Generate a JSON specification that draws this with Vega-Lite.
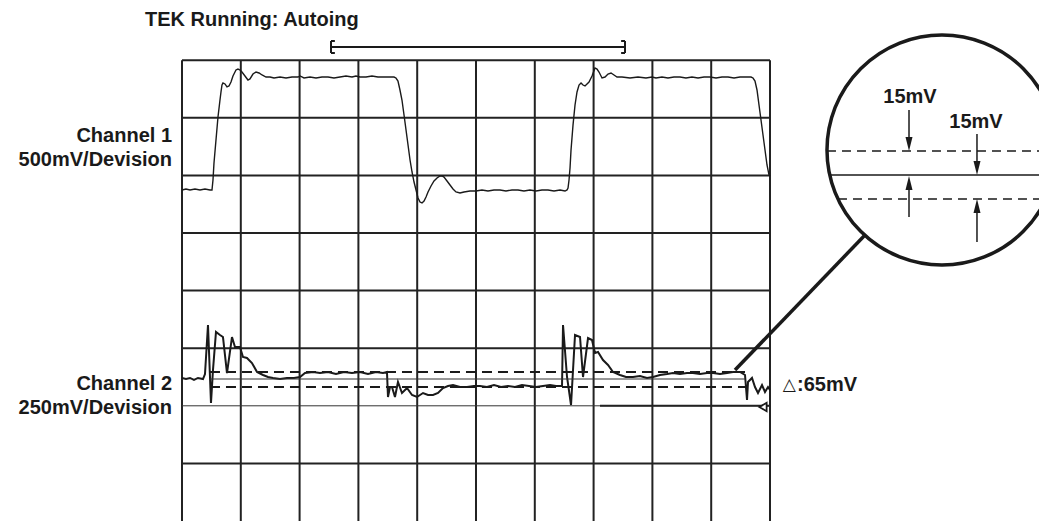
{
  "$schema": "https://vega.github.io/schema/vega-lite/v6.json",
  "width": 1039,
  "height": 521,
  "autosize": {"type": "none"},
  "padding": 0,
  "background": "white",
  "config": {"view": {"stroke": null}, "axis": {"disable": true}},
  "layer": [
    {
      "data": {"values": [{"t":0},{"t":1},{"t":2},{"t":3},{"t":4},{"t":5},{"t":6},{"t":7},{"t":8},{"t":9},{"t":10}]},
      "mark": {"type": "rule", "color": "#222", "strokeWidth": 2},
      "encoding": {
        "x": {"field": "t", "type": "quantitative", "scale": {"domain": [-3.0952, 14.5748], "nice": false, "zero": false}},
        "y": {"datum": 0, "type": "quantitative", "scale": {"domain": [0, 9.045], "nice": false, "zero": false}},
        "y2": {"datum": 8}
      }
    },
    {
      "data": {"values": [{"v":1},{"v":3},{"v":4},{"v":5},{"v":6},{"v":7},{"v":8}]},
      "mark": {"type": "rule", "color": "#222", "strokeWidth": 2},
      "encoding": {
        "y": {"field": "v", "type": "quantitative"},
        "x": {"datum": 0, "type": "quantitative"},
        "x2": {"datum": 10}
      }
    },
    {
      "data": {"values": [{"v":2}]},
      "mark": {"type": "rule", "color": "#333", "strokeWidth": 1},
      "encoding": {
        "y": {"field": "v", "type": "quantitative"},
        "x": {"datum": 0, "type": "quantitative"},
        "x2": {"datum": 10}
      }
    },
    {
      "data": {"values": [{"v":2}]},
      "mark": {"type": "rule", "color": "#222", "strokeWidth": 2},
      "encoding": {
        "y": {"field": "v", "type": "quantitative"},
        "x": {"datum": 7.109, "type": "quantitative"},
        "x2": {"datum": 10}
      }
    },
    {
      "data": {"values": [
        {"t":0,"v":5.747},{"t":0.068,"v":5.764},{"t":0.136,"v":5.747},{"t":0.221,"v":5.764},{"t":0.306,"v":5.747},{"t":0.391,"v":5.764},{"t":0.476,"v":5.747},{"t":0.51,"v":5.747},{"t":0.527,"v":5.92},{"t":0.544,"v":6.215},{"t":0.578,"v":6.615},{"t":0.612,"v":7.014},{"t":0.646,"v":7.309},{"t":0.663,"v":7.448},{"t":0.68,"v":7.569},{"t":0.697,"v":7.604},{"t":0.731,"v":7.587},{"t":0.765,"v":7.535},{"t":0.799,"v":7.552},{"t":0.833,"v":7.622},{"t":0.867,"v":7.726},{"t":0.918,"v":7.83},{"t":0.952,"v":7.847},{"t":0.986,"v":7.83},{"t":1.02,"v":7.795},{"t":1.071,"v":7.726},{"t":1.122,"v":7.656},{"t":1.156,"v":7.674},{"t":1.207,"v":7.76},{"t":1.259,"v":7.795},{"t":1.31,"v":7.778},{"t":1.361,"v":7.743},{"t":1.429,"v":7.708},{"t":1.497,"v":7.708},{"t":1.565,"v":7.691},{"t":1.667,"v":7.708},{"t":1.769,"v":7.691},{"t":1.871,"v":7.708},{"t":1.973,"v":7.708},{"t":2.007,"v":7.726},{"t":2.075,"v":7.691},{"t":2.177,"v":7.708},{"t":2.279,"v":7.691},{"t":2.381,"v":7.708},{"t":2.483,"v":7.708},{"t":2.585,"v":7.691},{"t":2.687,"v":7.708},{"t":2.789,"v":7.726},{"t":2.891,"v":7.708},{"t":2.959,"v":7.726},{"t":3.027,"v":7.708},{"t":3.129,"v":7.708},{"t":3.231,"v":7.726},{"t":3.333,"v":7.708},{"t":3.435,"v":7.708},{"t":3.537,"v":7.708},{"t":3.605,"v":7.708},{"t":3.639,"v":7.691},{"t":3.673,"v":7.639},{"t":3.707,"v":7.483},{"t":3.741,"v":7.309},{"t":3.776,"v":7.049},{"t":3.81,"v":6.788},{"t":3.844,"v":6.528},{"t":3.878,"v":6.267},{"t":3.912,"v":6.059},{"t":3.946,"v":5.885},{"t":3.98,"v":5.747},{"t":4.014,"v":5.608},{"t":4.048,"v":5.538},{"t":4.082,"v":5.521},{"t":4.116,"v":5.556},{"t":4.15,"v":5.625},{"t":4.184,"v":5.712},{"t":4.235,"v":5.816},{"t":4.286,"v":5.903},{"t":4.337,"v":5.955},{"t":4.388,"v":5.99},{"t":4.422,"v":5.99},{"t":4.456,"v":5.972},{"t":4.507,"v":5.903},{"t":4.558,"v":5.833},{"t":4.609,"v":5.764},{"t":4.66,"v":5.712},{"t":4.728,"v":5.694},{"t":4.796,"v":5.712},{"t":4.898,"v":5.729},{"t":5.0,"v":5.729},{"t":5.102,"v":5.747},{"t":5.204,"v":5.729},{"t":5.306,"v":5.747},{"t":5.408,"v":5.747},{"t":5.51,"v":5.729},{"t":5.612,"v":5.747},{"t":5.714,"v":5.747},{"t":5.816,"v":5.729},{"t":5.918,"v":5.747},{"t":6.02,"v":5.729},{"t":6.122,"v":5.747},{"t":6.224,"v":5.747},{"t":6.327,"v":5.729},{"t":6.429,"v":5.747},{"t":6.514,"v":5.729},{"t":6.548,"v":5.747},{"t":6.565,"v":5.781},{"t":6.582,"v":5.92},{"t":6.599,"v":6.128},{"t":6.616,"v":6.441},{"t":6.65,"v":6.875},{"t":6.684,"v":7.222},{"t":6.718,"v":7.448},{"t":6.752,"v":7.569},{"t":6.786,"v":7.604},{"t":6.82,"v":7.569},{"t":6.854,"v":7.552},{"t":6.888,"v":7.587},{"t":6.922,"v":7.622},{"t":6.973,"v":7.726},{"t":7.024,"v":7.865},{"t":7.058,"v":7.847},{"t":7.092,"v":7.795},{"t":7.143,"v":7.691},{"t":7.194,"v":7.708},{"t":7.245,"v":7.76},{"t":7.296,"v":7.778},{"t":7.347,"v":7.743},{"t":7.398,"v":7.708},{"t":7.483,"v":7.708},{"t":7.619,"v":7.691},{"t":7.755,"v":7.708},{"t":7.891,"v":7.691},{"t":7.993,"v":7.708},{"t":8.061,"v":7.691},{"t":8.163,"v":7.708},{"t":8.265,"v":7.691},{"t":8.367,"v":7.708},{"t":8.469,"v":7.708},{"t":8.571,"v":7.691},{"t":8.673,"v":7.708},{"t":8.776,"v":7.691},{"t":8.878,"v":7.708},{"t":8.98,"v":7.708},{"t":9.082,"v":7.691},{"t":9.184,"v":7.708},{"t":9.286,"v":7.708},{"t":9.388,"v":7.691},{"t":9.49,"v":7.708},{"t":9.592,"v":7.708},{"t":9.677,"v":7.708},{"t":9.711,"v":7.691},{"t":9.745,"v":7.639},{"t":9.779,"v":7.483},{"t":9.813,"v":7.222},{"t":9.847,"v":6.962},{"t":9.881,"v":6.701},{"t":9.915,"v":6.441},{"t":9.949,"v":6.181},{"t":9.983,"v":6.007},{"t":10.0,"v":5.99}
      ]},
      "mark": {"type": "line", "color": "#1a1a1a", "strokeWidth": 1.4},
      "encoding": {
        "x": {"field": "t", "type": "quantitative"},
        "y": {"field": "v", "type": "quantitative"},
        "order": {"value": null}
      }
    },
    {
      "data": {"values": [
        {"t":0,"v":2.483},{"t":0.068,"v":2.465},{"t":0.136,"v":2.483},{"t":0.204,"v":2.448},{"t":0.272,"v":2.483},{"t":0.357,"v":2.465},{"t":0.391,"v":2.552},{"t":0.442,"v":3.403},{"t":0.493,"v":2.049},{"t":0.527,"v":2.622},{"t":0.578,"v":3.281},{"t":0.646,"v":3.229},{"t":0.697,"v":3.194},{"t":0.765,"v":2.569},{"t":0.85,"v":3.194},{"t":0.901,"v":3.021},{"t":0.986,"v":3.021},{"t":1.037,"v":2.847},{"t":1.105,"v":2.83},{"t":1.19,"v":2.743},{"t":1.276,"v":2.587},{"t":1.378,"v":2.535},{"t":1.463,"v":2.5},{"t":1.548,"v":2.483},{"t":1.667,"v":2.465},{"t":1.786,"v":2.483},{"t":1.905,"v":2.483},{"t":2.007,"v":2.5},{"t":2.092,"v":2.569},{"t":2.228,"v":2.587},{"t":2.347,"v":2.569},{"t":2.483,"v":2.587},{"t":2.619,"v":2.552},{"t":2.755,"v":2.587},{"t":2.891,"v":2.569},{"t":3.027,"v":2.587},{"t":3.163,"v":2.552},{"t":3.299,"v":2.587},{"t":3.418,"v":2.569},{"t":3.486,"v":2.587},{"t":3.503,"v":2.153},{"t":3.537,"v":2.326},{"t":3.571,"v":2.326},{"t":3.622,"v":2.153},{"t":3.673,"v":2.413},{"t":3.741,"v":2.222},{"t":3.827,"v":2.309},{"t":3.912,"v":2.188},{"t":3.997,"v":2.153},{"t":4.099,"v":2.222},{"t":4.184,"v":2.188},{"t":4.269,"v":2.188},{"t":4.354,"v":2.222},{"t":4.439,"v":2.309},{"t":4.524,"v":2.344},{"t":4.609,"v":2.361},{"t":4.728,"v":2.326},{"t":4.847,"v":2.326},{"t":4.966,"v":2.344},{"t":5.068,"v":2.344},{"t":5.187,"v":2.326},{"t":5.306,"v":2.361},{"t":5.425,"v":2.326},{"t":5.544,"v":2.344},{"t":5.663,"v":2.326},{"t":5.782,"v":2.361},{"t":5.901,"v":2.344},{"t":6.02,"v":2.326},{"t":6.139,"v":2.344},{"t":6.259,"v":2.361},{"t":6.361,"v":2.344},{"t":6.463,"v":2.344},{"t":6.48,"v":3.403},{"t":6.548,"v":2.5},{"t":6.616,"v":2.014},{"t":6.65,"v":2.622},{"t":6.684,"v":3.229},{"t":6.769,"v":3.194},{"t":6.82,"v":2.5},{"t":6.905,"v":3.177},{"t":6.973,"v":3.142},{"t":7.024,"v":2.917},{"t":7.075,"v":2.934},{"t":7.16,"v":2.795},{"t":7.245,"v":2.708},{"t":7.33,"v":2.587},{"t":7.449,"v":2.535},{"t":7.551,"v":2.5},{"t":7.67,"v":2.5},{"t":7.789,"v":2.517},{"t":7.908,"v":2.483},{"t":8.01,"v":2.5},{"t":8.129,"v":2.535},{"t":8.248,"v":2.552},{"t":8.35,"v":2.569},{"t":8.469,"v":2.552},{"t":8.588,"v":2.569},{"t":8.69,"v":2.569},{"t":8.81,"v":2.552},{"t":8.929,"v":2.569},{"t":9.031,"v":2.569},{"t":9.15,"v":2.552},{"t":9.269,"v":2.569},{"t":9.371,"v":2.587},{"t":9.49,"v":2.587},{"t":9.575,"v":2.535},{"t":9.609,"v":2.101},{"t":9.626,"v":2.413},{"t":9.694,"v":2.483},{"t":9.745,"v":2.326},{"t":9.796,"v":2.222},{"t":9.864,"v":2.361},{"t":9.915,"v":2.24},{"t":9.966,"v":2.326},{"t":10.0,"v":2.274}
      ]},
      "mark": {"type": "line", "color": "#1a1a1a", "strokeWidth": 2},
      "encoding": {
        "x": {"field": "t", "type": "quantitative"},
        "y": {"field": "v", "type": "quantitative"},
        "order": {"value": null}
      }
    },
    {
      "data": {"values": [{"level": 2.587}, {"level": 2.326}]},
      "mark": {"type": "rule", "color": "#1a1a1a", "strokeWidth": 2, "strokeDash": [10, 6]},
      "encoding": {
        "y": {"field": "level", "type": "quantitative"},
        "x": {"datum": 0.476, "type": "quantitative"},
        "x2": {"datum": 9.575}
      }
    },
    {
      "data": {"values": [{"level": 2.465}]},
      "mark": {"type": "rule", "color": "#333", "strokeWidth": 1},
      "encoding": {
        "y": {"field": "level", "type": "quantitative"},
        "x": {"datum": 0.476, "type": "quantitative"},
        "x2": {"datum": 9.575}
      }
    },
    {
      "data": {"values": [{"t": 9.881, "v": 1.979}]},
      "mark": {"type": "point", "shape": "triangle-left", "size": 70, "filled": true, "fill": "white", "stroke": "#1a1a1a", "strokeWidth": 1.8, "opacity": 1},
      "encoding": {
        "x": {"field": "t", "type": "quantitative"},
        "y": {"field": "v", "type": "quantitative"}
      }
    },
    {
      "data": {"values": [{"t": 12.925, "v": 6.441}]},
      "mark": {"type": "point", "shape": "circle", "size": 52900, "filled": false, "stroke": "#1a1a1a", "strokeWidth": 3.5, "opacity": 1},
      "encoding": {
        "x": {"field": "t", "type": "quantitative"},
        "y": {"field": "v", "type": "quantitative"}
      }
    },
    {
      "data": {"values": [{"t1": 11.616, "v1": 4.965, "t2": 9.405, "v2": 2.622}]},
      "mark": {"type": "rule", "color": "#1a1a1a", "strokeWidth": 3.5},
      "encoding": {
        "x": {"field": "t1", "type": "quantitative"},
        "y": {"field": "v1", "type": "quantitative"},
        "x2": {"field": "t2"},
        "y2": {"field": "v2"}
      }
    },
    {
      "data": {"values": [{"t1": 10.969, "v": 6.424}, {"t1": 11.156, "v": 5.59}]},
      "mark": {"type": "rule", "color": "#1a1a1a", "strokeWidth": 1.5, "strokeDash": [9, 6]},
      "encoding": {
        "x": {"field": "t1", "type": "quantitative"},
        "x2": {"datum": 14.6},
        "y": {"field": "v", "type": "quantitative"}
      }
    },
    {
      "data": {"values": [{"t1": 11.02, "v": 6.007}]},
      "mark": {"type": "rule", "color": "#1a1a1a", "strokeWidth": 1.5},
      "encoding": {
        "x": {"field": "t1", "type": "quantitative"},
        "x2": {"datum": 14.6},
        "y": {"field": "v", "type": "quantitative"}
      }
    },
    {
      "data": {"values": [
        {"t": 12.364, "v1": 7.135, "v2": 6.5},
        {"t": 12.364, "v1": 5.278, "v2": 5.9},
        {"t": 13.52, "v1": 6.719, "v2": 6.1},
        {"t": 13.52, "v1": 4.844, "v2": 5.5}
      ]},
      "mark": {"type": "rule", "color": "#1a1a1a", "strokeWidth": 1.5},
      "encoding": {
        "x": {"field": "t", "type": "quantitative"},
        "y": {"field": "v1", "type": "quantitative"},
        "y2": {"field": "v2"}
      }
    },
    {
      "data": {"values": [{"t": 12.364, "v": 6.424}, {"t": 13.52, "v": 6.007}]},
      "mark": {"type": "point", "shape": "M-1,-4L1,-4L0,0Z", "size": 49, "filled": true, "color": "#1a1a1a", "opacity": 1},
      "encoding": {
        "x": {"field": "t", "type": "quantitative"},
        "y": {"field": "v", "type": "quantitative"}
      }
    },
    {
      "data": {"values": [{"t": 12.364, "v": 5.99}, {"t": 13.52, "v": 5.59}]},
      "mark": {"type": "point", "shape": "M-1,4L1,4L0,0Z", "size": 49, "filled": true, "color": "#1a1a1a", "opacity": 1},
      "encoding": {
        "x": {"field": "t", "type": "quantitative"},
        "y": {"field": "v", "type": "quantitative"}
      }
    },
    {
      "data": {"values": [
        {"label": "Channel 1", "t": -0.17, "v": 6.684},
        {"label": "500mV/Devision", "t": -0.17, "v": 6.267},
        {"label": "Channel 2", "t": -0.17, "v": 2.378},
        {"label": "250mV/Devision", "t": -0.17, "v": 1.962}
      ]},
      "mark": {"type": "text", "align": "right", "baseline": "middle", "font": "Liberation Sans", "fontWeight": "bold", "fontSize": 20, "color": "#1a1a1a"},
      "encoding": {
        "x": {"field": "t", "type": "quantitative"},
        "y": {"field": "v", "type": "quantitative"},
        "text": {"field": "label"}
      }
    },
    {
      "data": {"values": [
        {"label": "15mV", "t": 12.381, "v": 7.361},
        {"label": "15mV", "t": 13.503, "v": 6.927}
      ]},
      "mark": {"type": "text", "align": "center", "baseline": "middle", "font": "Liberation Sans", "fontWeight": "bold", "fontSize": 20, "color": "#1a1a1a"},
      "encoding": {
        "x": {"field": "t", "type": "quantitative"},
        "y": {"field": "v", "type": "quantitative"},
        "text": {"field": "label"}
      }
    },
    {
      "data": {"values": [
        {"label": "TEK Running: Autoing", "t": -0.629, "v": 8.698},
        {"label": ":65mV", "t": 10.46, "v": 2.361}
      ]},
      "mark": {"type": "text", "align": "left", "baseline": "middle", "font": "Liberation Sans", "fontWeight": "bold", "fontSize": 20, "color": "#1a1a1a"},
      "encoding": {
        "x": {"field": "t", "type": "quantitative"},
        "y": {"field": "v", "type": "quantitative"},
        "text": {"field": "label"}
      }
    },
    {
      "data": {"values": [{"label": "△", "t": 10.33, "v": 2.361}]},
      "mark": {"type": "text", "align": "center", "baseline": "middle", "font": "DejaVu Sans", "fontWeight": "normal", "fontSize": 17, "color": "#1a1a1a"},
      "encoding": {
        "x": {"field": "t", "type": "quantitative"},
        "y": {"field": "v", "type": "quantitative"},
        "text": {"field": "label"}
      }
    },
    {
      "data": {"values": [
        {"t1": 2.534, "t2": 7.534, "v1": 8.229, "v2": 8.229},
        {"t1": 2.534, "t2": 2.534, "v1": 8.333, "v2": 8.125},
        {"t1": 2.534, "t2": 2.6, "v1": 8.333, "v2": 8.333},
        {"t1": 2.534, "t2": 2.6, "v1": 8.125, "v2": 8.125},
        {"t1": 7.534, "t2": 7.534, "v1": 8.333, "v2": 8.125},
        {"t1": 7.468, "t2": 7.534, "v1": 8.333, "v2": 8.333},
        {"t1": 7.468, "t2": 7.534, "v1": 8.125, "v2": 8.125}
      ]},
      "mark": {"type": "rule", "color": "#1a1a1a", "strokeWidth": 2},
      "encoding": {
        "x": {"field": "t1", "type": "quantitative"},
        "x2": {"field": "t2"},
        "y": {"field": "v1", "type": "quantitative"},
        "y2": {"field": "v2"}
      }
    }
  ]
}
